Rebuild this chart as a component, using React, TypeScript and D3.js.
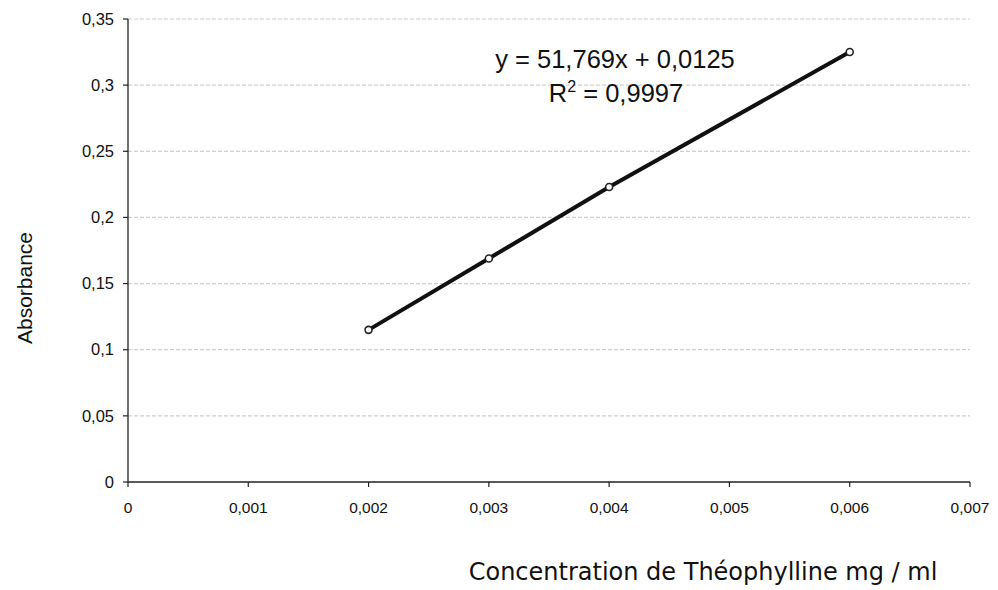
import React from "react";
import * as d3 from "d3";

const concentrations = [0.002, 0.003, 0.004, 0.006];
const absorbances = [0.115, 0.169, 0.223, 0.325];
const xTicks = [0, 0.001, 0.002, 0.003, 0.004, 0.005, 0.006, 0.007];
const yTicks = [0, 0.05, 0.1, 0.15, 0.2, 0.25, 0.3, 0.35];
const equationText = "y = 51,769x + 0,0125";
const xTitle = "Concentration de Théophylline mg / ml";
const yTitle = "Absorbance";

const W = 998;
const H = 590;

const fmt = (v: number) => (v === 0 ? "0" : String(v).replace(".", ","));

export default function App() {
  const x = d3.scaleLinear().domain([0, 0.007]).range([128, 970]);
  const y = d3.scaleLinear().domain([0, 0.35]).range([482, 19]);
  const pts = concentrations.map((c, i) => [c, absorbances[i]] as [number, number]);
  const line = d3
    .line<[number, number]>()
    .x((d) => x(d[0]))
    .y((d) => y(d[1]));
  return (
    <svg
      width={W}
      height={H}
      style={{ position: "absolute", left: 0, top: 0, background: "#fff" }}
      fontFamily="Arial, 'Liberation Sans', sans-serif"
    >
      <rect width={W} height={H} fill="#fff" />
      {yTicks.slice(1).map((t) => (
        <line
          key={"g" + t}
          x1={x(0)}
          x2={x(0.007)}
          y1={y(t)}
          y2={y(t)}
          stroke="#d0d0d0"
          strokeWidth={1.2}
          strokeDasharray="4,2"
        />
      ))}
      {/* axes */}
      <line x1={x(0)} x2={x(0)} y1={y(0)} y2={y(0.35)} stroke="#222" strokeWidth={1.3} />
      <line x1={x(0)} x2={x(0.007)} y1={y(0)} y2={y(0)} stroke="#222" strokeWidth={1.3} />
      {yTicks.map((t) => (
        <g key={"y" + t}>
          <line x1={x(0) - 5} x2={x(0)} y1={y(t)} y2={y(t)} stroke="#222" strokeWidth={1.2} />
          <text x={114} y={y(t)} dy="0.35em" textAnchor="end" fontSize={16.5} fill="#111">
            {fmt(t)}
          </text>
        </g>
      ))}
      {xTicks.map((t) => (
        <g key={"x" + t}>
          <line x1={x(t)} x2={x(t)} y1={y(0)} y2={y(0) + 5} stroke="#222" strokeWidth={1.2} />
          <text x={x(t)} y={513} textAnchor="middle" fontSize={15.5} fill="#111">
            {fmt(t)}
          </text>
        </g>
      ))}
      {/* data line */}
      <path d={line(pts) || ""} fill="none" stroke="#111" strokeWidth={4} strokeLinecap="round" />
      {pts.map((p, i) => (
        <circle
          key={"p" + i}
          cx={x(p[0])}
          cy={y(p[1])}
          r={3.5}
          fill="#fff"
          stroke="#222"
          strokeWidth={1.6}
        />
      ))}
      {/* equation */}
      <text x={615} y={68} textAnchor="middle" fontSize={25.5} fill="#111">
        {equationText}
      </text>
      <text x={616} y={102} textAnchor="middle" fontSize={25.5} fill="#111">
        R<tspan dy={-10} fontSize={16}>2</tspan>
        <tspan dy={10}> = 0,9997</tspan>
      </text>
      {/* axis titles */}
      <text
        transform={`translate(32,${288}) rotate(-90)`}
        textAnchor="middle"
        fontSize={21}
        fill="#111"
      >
        {yTitle}
      </text>
      <text
        x={703}
        y={580}
        textAnchor="middle"
        fontSize={24}
        fill="#111"
        fontFamily="'DejaVu Sans', Verdana, sans-serif"
      >
        {xTitle}
      </text>
    </svg>
  );
}
